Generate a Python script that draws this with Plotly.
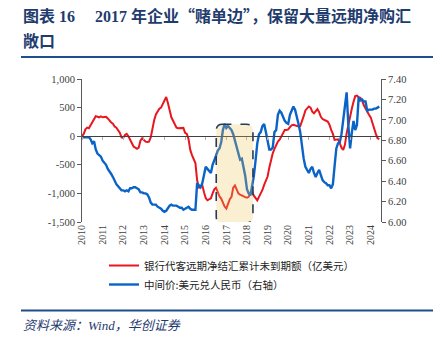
import plotly.graph_objects as go

# ---------------- data ----------------
years = list(range(2010, 2025))
months_per_year = 12

# 银行代客远期净结汇累计未到期额（亿美元）, monthly 2010-01 .. 2024-06
fwd_2010 = [0, 40, 120, 150, 140, 190, 250, 300, 350, 340, 330, 345]
fwd_2011 = [330, 335, 340, 310, 270, 240, 220, 170, 150, 110, 60, -20]
fwd_2012 = [-30, 20, 40, 0, -60, -120, -180, -200, -220, -200, -80, -35]
fwd_2013 = [-60, -95, -100, -95, -20, 150, 280, 380, 440, 480, 500, 560]
fwd_2014 = [640, 685, 580, 430, 330, 270, 200, 150, 140, 140, 145, 145]
fwd_2015 = [60, 40, -50, -240, -330, -400, -470, -770, -910, -870, -855, -980]
fwd_2016 = [-1080, -1120, -1100, -1085, -1000, -930, -900, -980, -1050, -1090, -1170, -1230]
fwd_2017 = [-1265, -1180, -1100, -1060, -900, -860, -930, -1000, -1020, -1040, -1050, -1065]
fwd_2018 = [-1075, -1060, -1000, -970, -1040, -1090, -1120, -1060, -1000, -940, -850, -760]
fwd_2019 = [-705, -550, -400, -300, -220, -150, -95, -60, 0, 60, 110, 110]
fwd_2020 = [120, 160, 190, 200, 190, 180, 170, 175, 250, 350, 450, 490]
fwd_2021 = [520, 500, 430, 400, 440, 475, 420, 340, 300, 290, 270, 255]
fwd_2022 = [200, 110, 40, -65, -60, -55, -120, -200, -240, -150, 50, 200]
fwd_2023 = [380, 480, 600, 700, 710, 680, 670, 620, 540, 480, 430, 375]
fwd_2024 = [330, 230, 110, 40, -35, -50]

# 中间价:美元兑人民币（右轴）
cny_2010 = [6.83, 6.83, 6.83, 6.83, 6.83, 6.81, 6.77, 6.79, 6.71, 6.67, 6.65, 6.64]
cny_2011 = [6.60, 6.58, 6.56, 6.52, 6.50, 6.47, 6.44, 6.40, 6.37, 6.35, 6.33, 6.31]
cny_2012 = [6.31, 6.30, 6.31, 6.30, 6.33, 6.33, 6.34, 6.34, 6.33, 6.32, 6.29, 6.29]
cny_2013 = [6.28, 6.28, 6.27, 6.24, 6.19, 6.17, 6.17, 6.17, 6.15, 6.14, 6.13, 6.11]
cny_2014 = [6.10, 6.11, 6.14, 6.16, 6.17, 6.16, 6.16, 6.16, 6.15, 6.14, 6.14, 6.12]
cny_2015 = [6.13, 6.14, 6.15, 6.13, 6.12, 6.12, 6.12, 6.38, 6.36, 6.34, 6.38, 6.45]
cny_2016 = [6.54, 6.52, 6.50, 6.48, 6.56, 6.60, 6.65, 6.70, 6.72, 6.78, 6.90, 6.96]
cny_2017 = [6.92, 6.94, 6.92, 6.90, 6.86, 6.80, 6.74, 6.68, 6.61, 6.62, 6.55, 6.45]
cny_2018 = [6.32, 6.28, 6.26, 6.34, 6.45, 6.60, 6.77, 6.86, 6.88, 6.94, 6.96, 6.88]
cny_2019 = [6.80, 6.71, 6.71, 6.73, 6.88, 6.90, 7.05, 7.09, 7.07, 7.03, 6.99, 6.97]
cny_2020 = [6.96, 7.05, 7.09, 7.13, 7.10, 7.04, 6.96, 6.88, 6.72, 6.62, 6.54, 6.51]
cny_2021 = [6.48, 6.52, 6.54, 6.48, 6.44, 6.48, 6.51, 6.46, 6.41, 6.39, 6.38, 6.36]
cny_2022 = [6.36, 6.33, 6.37, 6.55, 6.72, 6.77, 6.78, 6.86, 7.00, 7.15, 7.27, 6.95]
cny_2023 = [6.72, 6.87, 6.99, 6.90, 6.95, 7.22, 7.19, 7.20, 7.18, 7.18, 7.09, 7.10]
cny_2024 = [7.10, 7.10, 7.11, 7.11, 7.12, 7.13]

fwd_values = (fwd_2010 + fwd_2011 + fwd_2012 + fwd_2013 + fwd_2014 + fwd_2015 + fwd_2016
              + fwd_2017 + fwd_2018 + fwd_2019 + fwd_2020 + fwd_2021 + fwd_2022 + fwd_2023 + fwd_2024)
cny_values = (cny_2010 + cny_2011 + cny_2012 + cny_2013 + cny_2014 + cny_2015 + cny_2016
              + cny_2017 + cny_2018 + cny_2019 + cny_2020 + cny_2021 + cny_2022 + cny_2023 + cny_2024)

dates = [2010 + i / months_per_year for i in range(len(fwd_values))]

x_tick_vals = years
x_tick_text = [str(y) for y in years]
left_tick_vals = [-1500, -1000, -500, 0, 500, 1000]
left_tick_text = ["-1,500", "-1,000", "-500", "0", "500", "1,000"]
right_tick_vals = [6.0, 6.2, 6.4, 6.6, 6.8, 7.0, 7.2, 7.4]
right_tick_text = ["6.00", "6.20", "6.40", "6.60", "6.80", "7.00", "7.20", "7.40"]

name_fwd = "银行代客远期净结汇累计未到期额（亿美元）"
name_cny = "中间价:美元兑人民币（右轴）"
title_no = "图表 16"
title_rest_a = "2017 年企业"
title_rest_b = "“赌单边”，保留大量远期净购汇"
title_line2 = "敞口"
source_text = "资料来源：Wind，华创证券"

# highlight box (2017 period)
box_x = [2016.51, 2018.29]
box_y = [-1515, 210]

# ---------------- figure ----------------
NAVY = "#1F3C6E"
AXIS = "#5a5a5a"
SERIF = "Liberation Serif, Times New Roman, serif"
TICKFONT = dict(family=SERIF, size=10.5, color="#404040")
CJK = "Noto Sans CJK SC, Noto Sans, sans-serif"

fig = go.Figure()
fig.add_trace(go.Scatter(x=dates, y=fwd_values, mode="lines", name=name_fwd,
                         line=dict(color="#E8161E", width=2), yaxis="y"))
fig.add_trace(go.Scatter(x=dates, y=cny_values, mode="lines", name=name_cny,
                         line=dict(color="#0A63C6", width=2.4), yaxis="y2"))
# carrier for the zero-line axis with year ticks
fig.add_trace(go.Scatter(x=[2010], y=[None], xaxis="x2", yaxis="y", showlegend=False,
                         hoverinfo="skip", mode="lines"))

x0, x1 = box_x
y0, y1 = box_y
rx, ry = 0.3, 110
path = (f"M {x0+rx},{y1} L {x1-rx},{y1} Q {x1},{y1} {x1},{y1-ry} "
        f"L {x1},{y0+ry} Q {x1},{y0} {x1-rx},{y0} L {x0+rx},{y0} "
        f"Q {x0},{y0} {x0},{y0+ry} L {x0},{y1-ry} Q {x0},{y1} {x0+rx},{y1} Z")

W, H = 442, 343
ml, mr, mt, mb = 82, 61, 79, 121
pw, ph = W - ml - mr, H - mt - mb


def px(x):
    return (x - ml) / pw


def py(y):
    return (H - mb - y) / ph


cjk_span = f'<span style="font-family:{CJK}">'
title1_html = (f"<b>{cjk_span}图表</span> 16\u2003 2017 {cjk_span}年企业{title_rest_b}</span></b>")

fig.update_layout(
    width=W, height=H,
    margin=dict(l=ml, r=mr, t=mt, b=mb, pad=0),
    paper_bgcolor="white", plot_bgcolor="white",
    showlegend=True,
    legend=dict(x=px(104), y=py(251), xanchor="left", yanchor="top",
                font=dict(family=CJK, size=10.5, color="#222222"),
                bgcolor="rgba(0,0,0,0)", tracegroupgap=0, itemwidth=30),
    xaxis=dict(range=[2010, 2024.5], tickvals=x_tick_vals, ticktext=x_tick_text,
               tickangle=-90, showline=False, ticks="", showgrid=False, zeroline=False,
               tickfont=dict(family=SERIF, size=10, color="#404040"),
               fixedrange=True),
    xaxis2=dict(range=[2010, 2024.5], overlaying="x", anchor="free", position=0.6,
                tickvals=x_tick_vals, showticklabels=False, ticks="outside", ticklen=3,
                tickcolor="#b0b0b0", showline=True, linecolor="#404040", linewidth=1,
                showgrid=False, zeroline=False),
    yaxis=dict(range=[-1500, 1000], tickvals=left_tick_vals, ticktext=left_tick_text,
               showline=True, linecolor=AXIS, linewidth=1, ticks="outside", ticklen=4,
               tickcolor=AXIS, showgrid=False, zeroline=False, tickfont=TICKFONT),
    yaxis2=dict(range=[6.0, 7.4], tickvals=right_tick_vals, ticktext=right_tick_text,
                overlaying="y", side="right", showline=True, linecolor=AXIS, linewidth=1,
                ticks="outside", ticklen=4, tickcolor=AXIS, showgrid=False, zeroline=False,
                tickfont=TICKFONT),
    shapes=[
        dict(type="path", path=path, xref="x", yref="y", layer="above",
             fillcolor="rgba(240,195,90,0.27)",
             line=dict(color="#243B5E", width=1.6, dash="dash")),
        dict(type="line", xref="paper", yref="paper", x0=px(21), x1=px(433),
             y0=py(57), y1=py(57), line=dict(color="#1F4E8C", width=2)),
        dict(type="line", xref="paper", yref="paper", x0=px(21), x1=px(433),
             y0=py(310.5), y1=py(310.5), line=dict(color="#1F4E8C", width=2)),
    ],
    annotations=[
        dict(text=title1_html, xref="paper", yref="paper", x=px(21), y=py(15),
             xanchor="left", yanchor="middle", showarrow=False,
             font=dict(family=SERIF, size=16, color=NAVY)),
        dict(text=f"<b>{title_line2}</b>", xref="paper", yref="paper", x=px(21), y=py(40),
             xanchor="left", yanchor="middle", showarrow=False,
             font=dict(family=CJK, size=16, color=NAVY)),
        dict(text=f"<i>{source_text}</i>", xref="paper", yref="paper", x=px(21), y=py(325),
             xanchor="left", yanchor="middle", showarrow=False,
             font=dict(family=SERIF + ", " + CJK, size=13, color=NAVY)),
    ],
)

fig.write_html("out.html")
